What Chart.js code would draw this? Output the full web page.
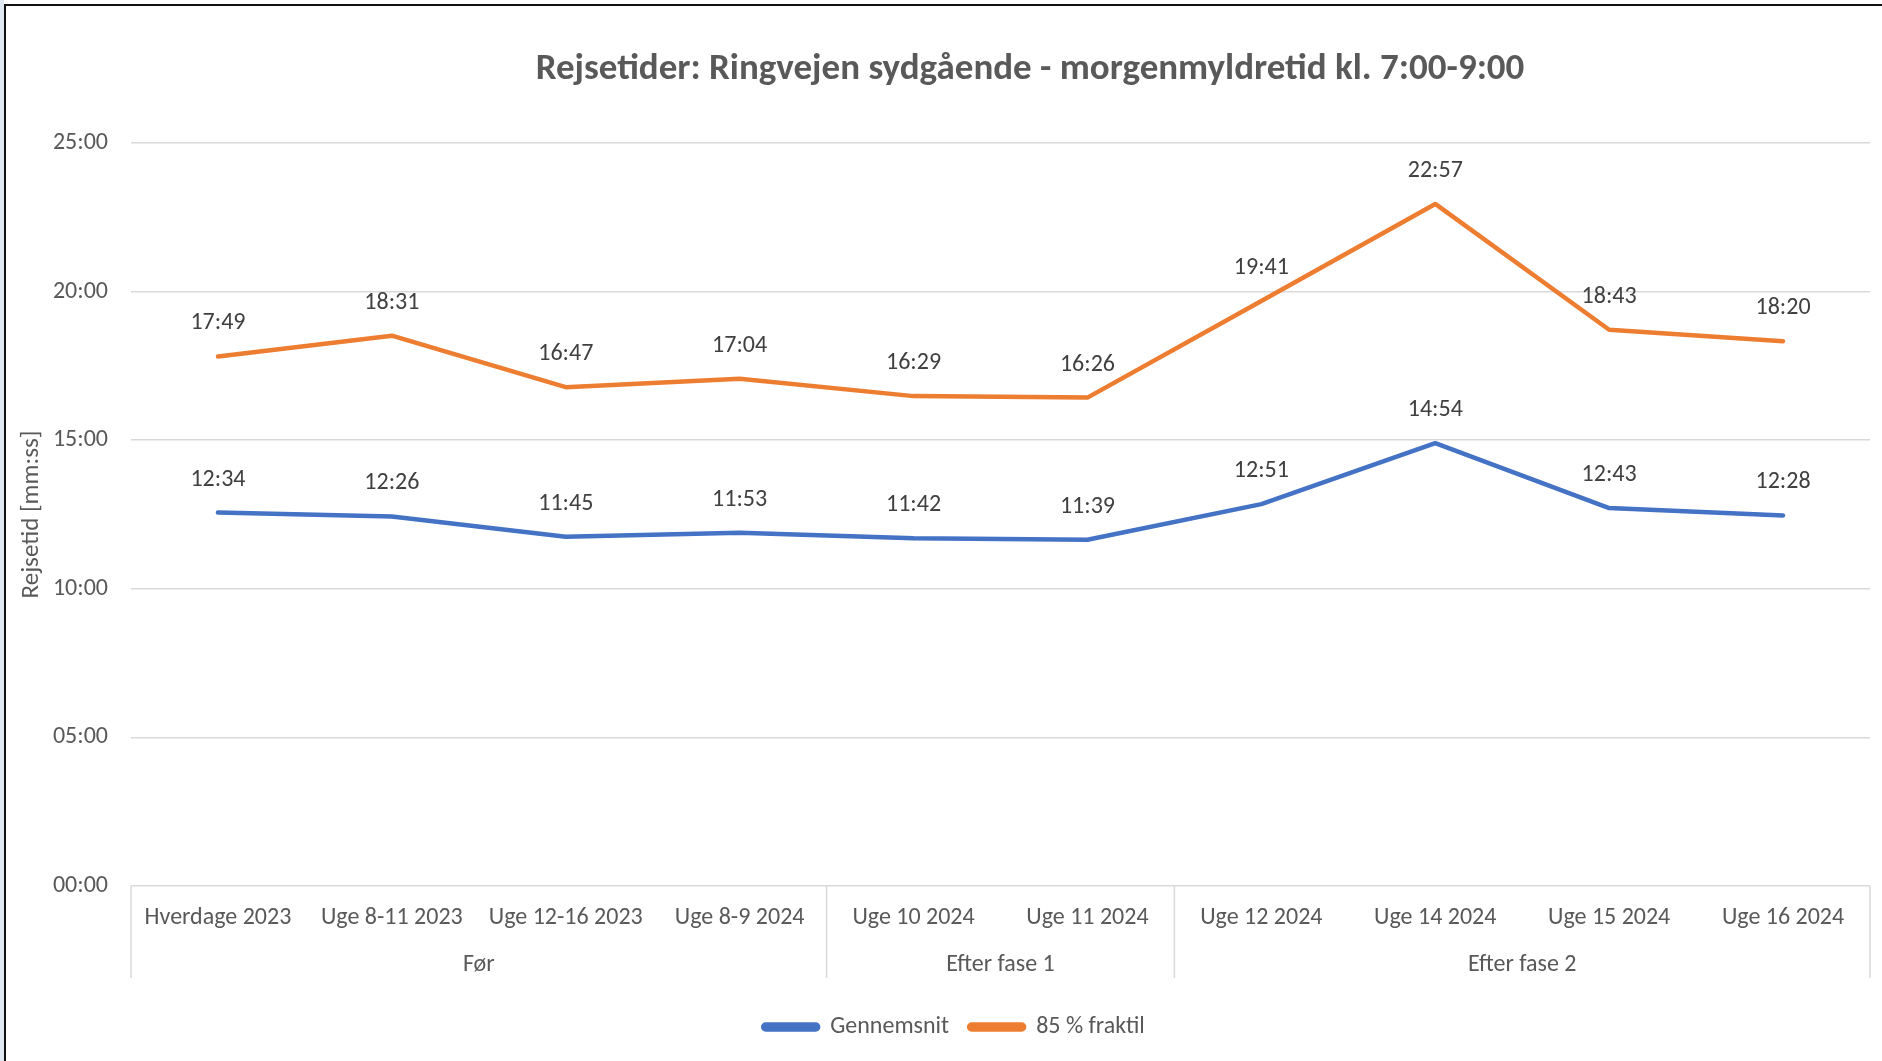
<!DOCTYPE html>
<html>
<head>
<meta charset="utf-8">
<script src="https://cdn.jsdelivr.net/npm/chart.js@4.4.1/dist/chart.umd.min.js"></script>
<style>
    html, body { margin: 0; padding: 0; background: #fff; }
    #wrap { position: relative; width: 1882px; height: 1061px; }
    #frame {
        position: absolute; left: 4px; top: 4px; right: 0; bottom: 0;
        border-left: 2px solid #111; border-top: 2px solid #111;
        pointer-events: none;
    }
    #strip { position: absolute; left: 0; top: 0; width: 4px; height: 1061px; background: #dfe9f2; }
</style>
</head>
<body>
<div id="wrap">
    <canvas id="myChart" width="1882" height="1061"></canvas>
    <div id="strip"></div>
    <div id="frame"></div>
</div>
<script>
const categories = ["Hverdage 2023", "Uge 8-11 2023", "Uge 12-16 2023", "Uge 8-9 2024",
    "Uge 10 2024", "Uge 11 2024", "Uge 12 2024", "Uge 14 2024", "Uge 15 2024", "Uge 16 2024"];
const groupNames = ["Før", "Efter fase 1", "Efter fase 2"];
const groupSizes = [4, 2, 4];

// travel times, mm:ss
const avgTimes = ["12:34", "12:26", "11:45", "11:53", "11:42", "11:39", "12:51", "14:54", "12:43", "12:28"];
const p85Times = ["17:49", "18:31", "16:47", "17:04", "16:29", "16:26", "19:41", "22:57", "18:43", "18:20"];

const yTicks = [0, 300, 600, 900, 1200, 1500]; // seconds -> 00:00 .. 25:00

const FONT = "Carlito, Lato, 'Liberation Sans', sans-serif";
const FS = 24;
const textGrey = "#595959";
const gridGrey = "#d9d9d9";

function toSec(s) {
    const [m, sec] = s.split(":").map(Number);
    return m * 60 + sec;
}
function fmt(v) {
    const m = Math.floor(v / 60), s = Math.round(v % 60);
    return String(m).padStart(2, "0") + ":" + String(s).padStart(2, "0");
}

// point labels above every point
const pointLabels = {
    id: "pointLabels",
    afterDatasetsDraw(chart) {
        const ctx = chart.ctx;
        ctx.save();
        ctx.font = FS + "px " + FONT;
        ctx.fillStyle = "#404040";
        ctx.textAlign = "center";
        ctx.textBaseline = "middle";
        chart.data.datasets.forEach((ds, i) => {
            chart.getDatasetMeta(i).data.forEach((pt, j) => {
                ctx.fillText(ds.labels[j], pt.x, pt.y - 33);
            });
        });
        ctx.restore();
    }
};

// second level of the category axis (Før / Efter fase 1 / Efter fase 2)
const groupAxis = {
    id: "groupAxis",
    afterDraw(chart) {
        const ctx = chart.ctx;
        const x = chart.scales.x;
        const area = chart.chartArea;
        const edge = (i) => {
            if (i === 0) return area.left;
            if (i === categories.length) return area.right;
            return (x.getPixelForValue(i - 1) + x.getPixelForValue(i)) / 2;
        };
        ctx.save();
        ctx.strokeStyle = gridGrey;
        ctx.lineWidth = 1.5;
        ctx.font = FS + "px " + FONT;
        ctx.fillStyle = textGrey;
        ctx.textAlign = "center";
        ctx.textBaseline = "middle";
        let start = 0;
        const bounds = [0];
        groupSizes.forEach((n, g) => {
            const a = edge(start), b = edge(start + n);
            ctx.fillText(groupNames[g], (a + b) / 2, area.bottom + 79);
            start += n;
            bounds.push(start);
        });
        bounds.forEach(i => {
            const px = edge(i);
            ctx.beginPath();
            ctx.moveTo(px, area.bottom);
            ctx.lineTo(px, area.bottom + 92);
            ctx.stroke();
        });
        ctx.restore();
    }
};

const headline = {
    id: "headline",
    afterDraw(chart) {
        const ctx = chart.ctx;
        ctx.save();
        ctx.font = "bold 37px " + FONT;
        ctx.fillStyle = textGrey;
        ctx.textAlign = "center";
        ctx.textBaseline = "middle";
        ctx.fillText("Rejsetider: Ringvejen sydgående - morgenmyldretid kl. 7:00-9:00", 1030, 70);
        ctx.restore();
    }
};

// the legend sits a little right of the canvas centre
const legendShift = {
    id: "legendShift",
    afterLayout(chart) {
        chart.legend.left += 14;
        chart.legend.right += 14;
    }
};

const data = {
    labels: categories,
    datasets: [{
        label: "Gennemsnit",
        data: avgTimes.map(toSec),
        labels: avgTimes,
        borderColor: "#4472C4",
        backgroundColor: "#4472C4",
        borderWidth: 4.5,
        pointRadius: 0,
        borderCapStyle: "round",
        borderJoinStyle: "round",
        tension: 0
    }, {
        label: "85 % fraktil",
        data: p85Times.map(toSec),
        labels: p85Times,
        borderColor: "#ED7D31",
        backgroundColor: "#ED7D31",
        borderWidth: 4.5,
        pointRadius: 0,
        borderCapStyle: "round",
        borderJoinStyle: "round",
        tension: 0
    }]
};

const config = {
    type: "line",
    data,
    options: {
        responsive: false,
        animation: false,
        layout: {
            padding: { top: 143, left: 10, right: 12, bottom: 12 }
        },
        plugins: {
            legend: {
                position: "bottom",
                labels: {
                    color: textGrey,
                    font: { family: FONT, size: FS },
                    boxWidth: 55,
                    boxHeight: 5,
                    useBorderRadius: true,
                    borderRadius: 2.5,
                    padding: 20
                }
            },
            title: { display: false },
            tooltip: { enabled: false }
        },
        scales: {
            x: {
                offset: true,
                grid: { display: false, offset: true },
                border: { display: false },
                ticks: {
                    color: textGrey,
                    font: { family: FONT, size: FS },
                    padding: 10,
                    maxRotation: 0,
                    autoSkip: false
                },
                afterFit(scale) { scale.height = 109; }
            },
            y: {
                min: 0,
                max: 1500,
                afterBuildTicks(scale) { scale.ticks = yTicks.map(v => ({ value: v })); },
                grid: { color: gridGrey, lineWidth: 1.5, drawTicks: false },
                border: { display: false },
                ticks: {
                    color: textGrey,
                    font: { family: FONT, size: FS },
                    padding: 23,
                    callback: (v) => fmt(v)
                },
                title: {
                    display: true,
                    text: "Rejsetid [mm:ss]",
                    color: textGrey,
                    font: { family: FONT, size: 25 },
                    padding: { top: 7, bottom: 0 }
                },
                afterFit(scale) { scale.width = 121; }
            }
        }
    },
    plugins: [pointLabels, groupAxis, headline, legendShift]
};

const ctx = document.getElementById("myChart");
const myChart = new Chart(ctx, config);
</script>
</body>
</html>
